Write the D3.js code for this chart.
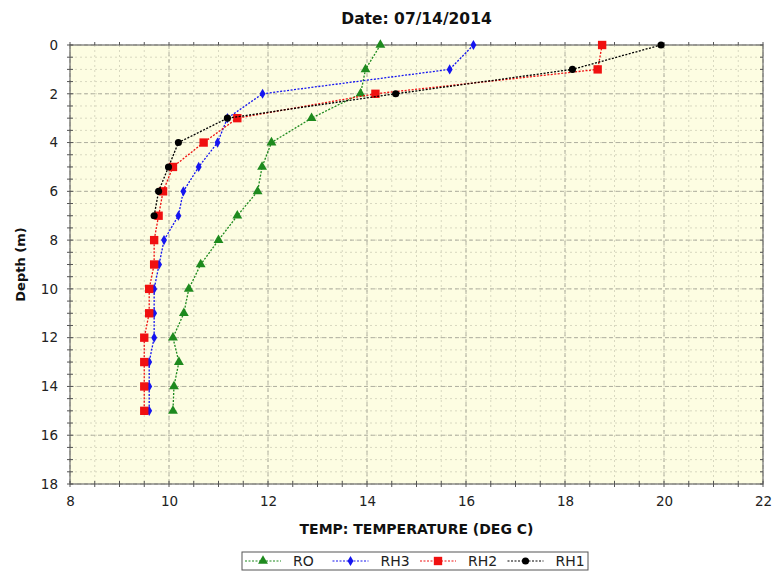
<!DOCTYPE html>
<html>
<head>
<meta charset="utf-8">
<script src="https://cdn.jsdelivr.net/npm/d3@7"></script>
<style>
  body { margin: 0; background: #fff; }
  text { font-family: "DejaVu Sans", sans-serif; }
</style>
</head>
<body>
<div class="vis-profile"></div>
<script>
// depth in metres, temperatures in deg C
const depths = [0, 1, 2, 3, 4, 5, 6, 7, 8, 9, 10, 11, 12, 13, 14, 15];
const ro  = [14.27, 13.97, 13.87, 12.88, 12.07, 11.88, 11.79, 11.38, 11.0, 10.64, 10.4, 10.3, 10.08, 10.2, 10.1, 10.08];
const rh3 = [16.15, 15.67, 11.89, 11.18, 10.98, 10.6, 10.29, 10.19, 9.9, 9.8, 9.7, 9.7, 9.7, 9.6, 9.6, 9.6];
const rh2 = [18.75, 18.66, 14.17, 11.38, 10.7, 10.08, 9.88, 9.79, 9.7, 9.7, 9.6, 9.6, 9.5, 9.5, 9.5, 9.5];
const rh1 = [19.94, 18.15, 14.58, 11.18, 10.19, 9.99, 9.79, 9.7];
const seriesNames = ["RO", "RH3", "RH2", "RH1"];
const xTicks = [8, 10, 12, 14, 16, 18, 20, 22];
const yTicks = [0, 2, 4, 6, 8, 10, 12, 14, 16, 18];

const series = [
    { name: "RO", values: ro, color: "#1e8a1e", symbol: d3.symbolTriangle, size: 42 },
    { name: "RH3", values: rh3, color: "#1515f0", symbol: d3.symbolDiamond, size: 30 },
    { name: "RH2", values: rh2, color: "#f01010", symbol: d3.symbolSquare, size: 70 },
    { name: "RH1", values: rh1, color: "#000000", symbol: d3.symbolCircle, size: 40 }
];

const W = 774, H = 571;
let margin = { top: 45, right: 11, bottom: 87, left: 70 };
const width = W - margin.left - margin.right;
const height = H - margin.top - margin.bottom;

let svg = d3.select(".vis-profile")
    .append("svg")
    .attr("width", W)
    .attr("height", H);

let g = svg.append("g")
    .attr("transform", "translate(" + margin.left + "," + margin.top + ")");

let x = d3.scaleLinear().domain([8, 22]).range([0, width]);
let y = d3.scaleLinear().domain([0, 18]).range([0, height]);

// background
g.append("rect")
    .attr("width", width)
    .attr("height", height)
    .attr("fill", "#fdfde2");

// minor grid every 0.5
const minorX = d3.range(8, 22.01, 0.5);
const minorY = d3.range(0, 18.01, 0.5);
g.append("g").selectAll("line").data(minorX).join("line")
    .attr("x1", d => x(d)).attr("x2", d => x(d))
    .attr("y1", 0).attr("y2", height)
    .attr("stroke", "#d8d8c0").attr("stroke-width", 1)
    .attr("stroke-dasharray", "2,3");
g.append("g").selectAll("line").data(minorY).join("line")
    .attr("y1", d => y(d)).attr("y2", d => y(d))
    .attr("x1", 0).attr("x2", width)
    .attr("stroke", "#d8d8c0").attr("stroke-width", 1)
    .attr("stroke-dasharray", "2,3");

// major grid
g.append("g").selectAll("line").data(xTicks).join("line")
    .attr("x1", d => x(d)).attr("x2", d => x(d))
    .attr("y1", 0).attr("y2", height)
    .attr("stroke", "#b0b0a0").attr("stroke-width", 1)
    .attr("stroke-dasharray", "4,3");
g.append("g").selectAll("line").data(yTicks).join("line")
    .attr("y1", d => y(d)).attr("y2", d => y(d))
    .attr("x1", 0).attr("x2", width)
    .attr("stroke", "#b0b0a0").attr("stroke-width", 1)
    .attr("stroke-dasharray", "4,3");

// frame
g.append("rect")
    .attr("width", width)
    .attr("height", height)
    .attr("fill", "none")
    .attr("stroke", "#707070")
    .attr("stroke-width", 1.2);

// small tick marks on all four sides
const tickLen = 3;
[0, height].forEach(function (yy) {
    g.append("g").selectAll("line").data(minorX).join("line")
        .attr("x1", d => x(d)).attr("x2", d => x(d))
        .attr("y1", yy - tickLen).attr("y2", yy + (yy === 0 ? 0 : tickLen))
        .attr("stroke", "#555");
});
[0, width].forEach(function (xx) {
    g.append("g").selectAll("line").data(minorY).join("line")
        .attr("y1", d => y(d)).attr("y2", d => y(d))
        .attr("x1", xx - tickLen).attr("x2", xx + (xx === 0 ? tickLen : 0))
        .attr("stroke", "#555");
});

// axes labels through d3 axes
let xAxis = g.append("g")
    .attr("transform", "translate(0," + height + ")")
    .call(d3.axisBottom(x).tickValues(xTicks).tickSize(0).tickPadding(12).tickFormat(d3.format("d")));
xAxis.select(".domain").remove();
xAxis.selectAll("text")
    .attr("font-size", 13.5)
    .attr("fill", "#222")
    .style("font-family", "'DejaVu Sans', sans-serif");

let yAxis = g.append("g")
    .call(d3.axisLeft(y).tickValues(yTicks).tickSize(0).tickPadding(12).tickFormat(d3.format("d")));
yAxis.select(".domain").remove();
yAxis.selectAll("text")
    .attr("font-size", 13.5)
    .attr("fill", "#222")
    .style("font-family", "'DejaVu Sans', sans-serif");

// series lines + markers
let line = d3.line()
    .x(d => x(d.t))
    .y(d => y(d.depth));

series.forEach(function (s) {
    const pts = s.values.map((t, i) => ({ t: t, depth: depths[i] }));
    g.append("path")
        .datum(pts)
        .attr("fill", "none")
        .attr("stroke", s.color)
        .attr("stroke-width", 1.3)
        .attr("stroke-dasharray", "2,1.5")
        .attr("d", line);
    g.append("g").selectAll("path").data(pts).join("path")
        .attr("transform", d => "translate(" + x(d.t) + "," + y(d.depth) + ")")
        .attr("d", d3.symbol().type(s.symbol).size(s.size))
        .attr("fill", s.color);
});

// title and axis titles
svg.append("text")
    .attr("x", margin.left + width / 2)
    .attr("y", 24)
    .attr("text-anchor", "middle")
    .attr("font-size", 15.5)
    .attr("font-weight", "bold")
    .attr("fill", "#111")
    .text("Date: 07/14/2014");

svg.append("text")
    .attr("x", margin.left + width / 2)
    .attr("y", 534)
    .attr("text-anchor", "middle")
    .attr("font-size", 14)
    .attr("font-weight", "bold")
    .attr("fill", "#111")
    .text("TEMP: TEMPERATURE (DEG C)");

svg.append("text")
    .attr("transform", "translate(25," + (margin.top + height / 2) + ") rotate(-90)")
    .attr("text-anchor", "middle")
    .attr("font-size", 13)
    .attr("font-weight", "bold")
    .attr("fill", "#111")
    .text("Depth (m)");

// legend
const legX = 242, legY = 552, legW = 346, legH = 18, itemW = 87.5;
let leg = svg.append("g");
leg.append("rect")
    .attr("x", legX).attr("y", legY)
    .attr("width", legW).attr("height", legH)
    .attr("fill", "#fff")
    .attr("stroke", "#555");
series.forEach(function (s, i) {
    const x0 = legX + 3 + i * itemW;
    const cy = legY + legH / 2;
    leg.append("line")
        .attr("x1", x0).attr("x2", x0 + 36)
        .attr("y1", cy).attr("y2", cy)
        .attr("stroke", s.color)
        .attr("stroke-width", 1.2)
        .attr("stroke-dasharray", "2,1.5");
    leg.append("path")
        .attr("transform", "translate(" + (x0 + 18) + "," + cy + ")")
        .attr("d", d3.symbol().type(s.symbol).size(s.size))
        .attr("fill", s.color);
    leg.append("text")
        .attr("x", x0 + 48)
        .attr("y", cy + 5)
        .attr("font-size", 14)
        .attr("fill", "#222")
        .text(seriesNames[i]);
});
</script>
</body>
</html>
